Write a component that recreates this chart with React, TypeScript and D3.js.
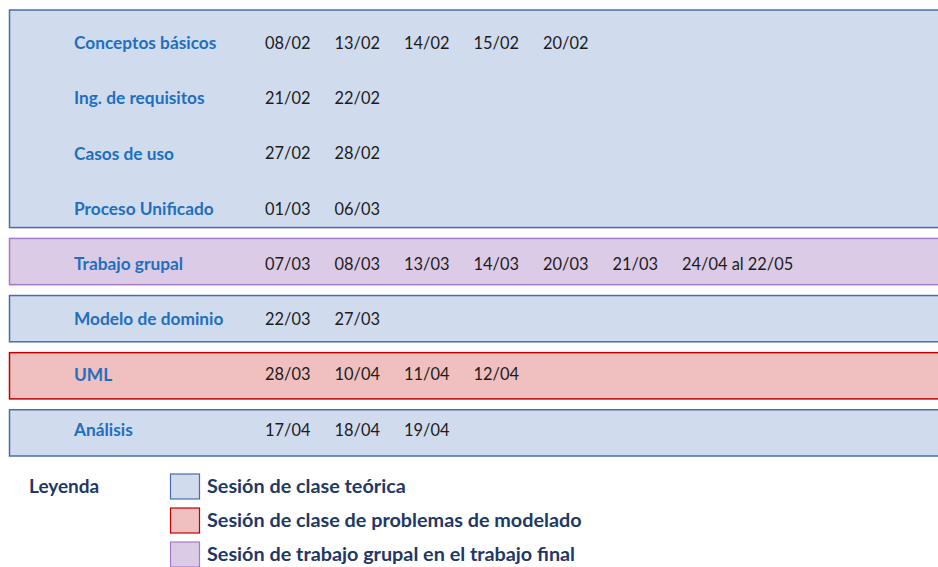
import { useEffect } from "react";
import * as d3 from "d3";

// Temas del curso y fechas de cada sesión
const topics = [
  "Conceptos básicos",
  "Ing. de requisitos",
  "Casos de uso",
  "Proceso Unificado",
  "Trabajo grupal",
  "Modelo de dominio",
  "UML",
  "Análisis",
];

const topicDates = [
  ["08/02", "13/02", "14/02", "15/02", "20/02"],
  ["21/02", "22/02"],
  ["27/02", "28/02"],
  ["01/03", "06/03"],
  ["07/03", "08/03", "13/03", "14/03", "20/03", "21/03", "24/04 al 22/05"],
  ["22/03", "27/03"],
  ["28/03", "10/04", "11/04", "12/04"],
  ["17/04", "18/04", "19/04"],
];

// Bloques (recuadros) que agrupan temas consecutivos
const blockTopics = [
  ["Conceptos básicos", "Ing. de requisitos", "Casos de uso", "Proceso Unificado"],
  ["Trabajo grupal"],
  ["Modelo de dominio"],
  ["UML"],
  ["Análisis"],
];
const blockKinds = ["teorica", "grupal", "teorica", "problemas", "teorica"];

// Leyenda
const legendLabels = [
  "Sesión de clase teórica",
  "Sesión de clase de problemas de modelado",
  "Sesión de trabajo grupal en el trabajo final",
];
const legendKinds = ["teorica", "problemas", "grupal"];

const fills: Record<string, string> = {
  teorica: "#d0dbee",
  problemas: "#efc0bf",
  grupal: "#dccbe6",
};
const strokes: Record<string, string> = {
  teorica: "#4a6cab",
  problemas: "#c00000",
  grupal: "#a57acb",
};

const FONT = "Lato, 'Open Sans', sans-serif";

export default function App() {
  const width = 938;
  const height = 567;

  useEffect(() => {
    document.body.style.margin = "0";
  }, []);

  // Recuadros: una banda por tema
  const yBox = d3.scaleBand().domain(topics).range([10, 456]).paddingInner(0.19);
  // Texto: un punto por tema
  const yText = d3.scalePoint().domain(topics).range([43, 430]);
  // Columnas de fechas
  const maxCols = d3.max(topicDates, (d) => d.length) || 0;
  const xCol = d3
    .scalePoint<number>()
    .domain(d3.range(maxCols))
    .range([265, 682]);

  const yLegend = d3
    .scaleBand()
    .domain(legendLabels)
    .range([474, 567])
    .paddingInner(0.265);

  return (
    <svg
      width={width}
      height={height}
      style={{ display: "block", background: "#ffffff", fontFamily: FONT }}
    >
      {blockTopics.map((group, i) => {
        const top = yBox(group[0]) || 0;
        const bottom = (yBox(group[group.length - 1]) || 0) + yBox.bandwidth();
        return (
          <rect
            key={i}
            x={9.5}
            y={top}
            width={width + 10}
            height={bottom - top}
            fill={fills[blockKinds[i]]}
            stroke={strokes[blockKinds[i]]}
            strokeWidth={1.5}
          />
        );
      })}

      {topics.map((t, i) => (
        <g key={t} transform={`translate(0,${yText(t)})`}>
          <text
            x={74}
            dy="0.35em"
            fill="#1f6fbf"
            fontWeight={700}
            fontSize={17.3}
          >
            {t}
          </text>
          {topicDates[i].map((d, j) => (
            <text key={j} x={xCol(j)} dy="0.35em" fill="#1c1c1c" fontSize={16.4}>
              {d}
            </text>
          ))}
        </g>
      ))}

      <text
        x={29}
        y={(yLegend(legendLabels[0]) || 0) + yLegend.bandwidth() / 2}
        dy="0.35em"
        fill="#1f3864"
        fontWeight={700}
        fontSize={19}
      >
        Leyenda
      </text>
      {legendLabels.map((l, i) => {
        const y = yLegend(l) || 0;
        return (
          <g key={l}>
            <rect
              x={170.5}
              y={y}
              width={29}
              height={yLegend.bandwidth()}
              fill={fills[legendKinds[i]]}
              stroke={strokes[legendKinds[i]]}
              strokeWidth={1.2}
            />
            <text
              x={207}
              y={y + yLegend.bandwidth() / 2}
              dy="0.35em"
              fill="#1f3864"
              fontWeight={700}
              fontSize={19.8}
            >
              {l}
            </text>
          </g>
        );
      })}
    </svg>
  );
}
